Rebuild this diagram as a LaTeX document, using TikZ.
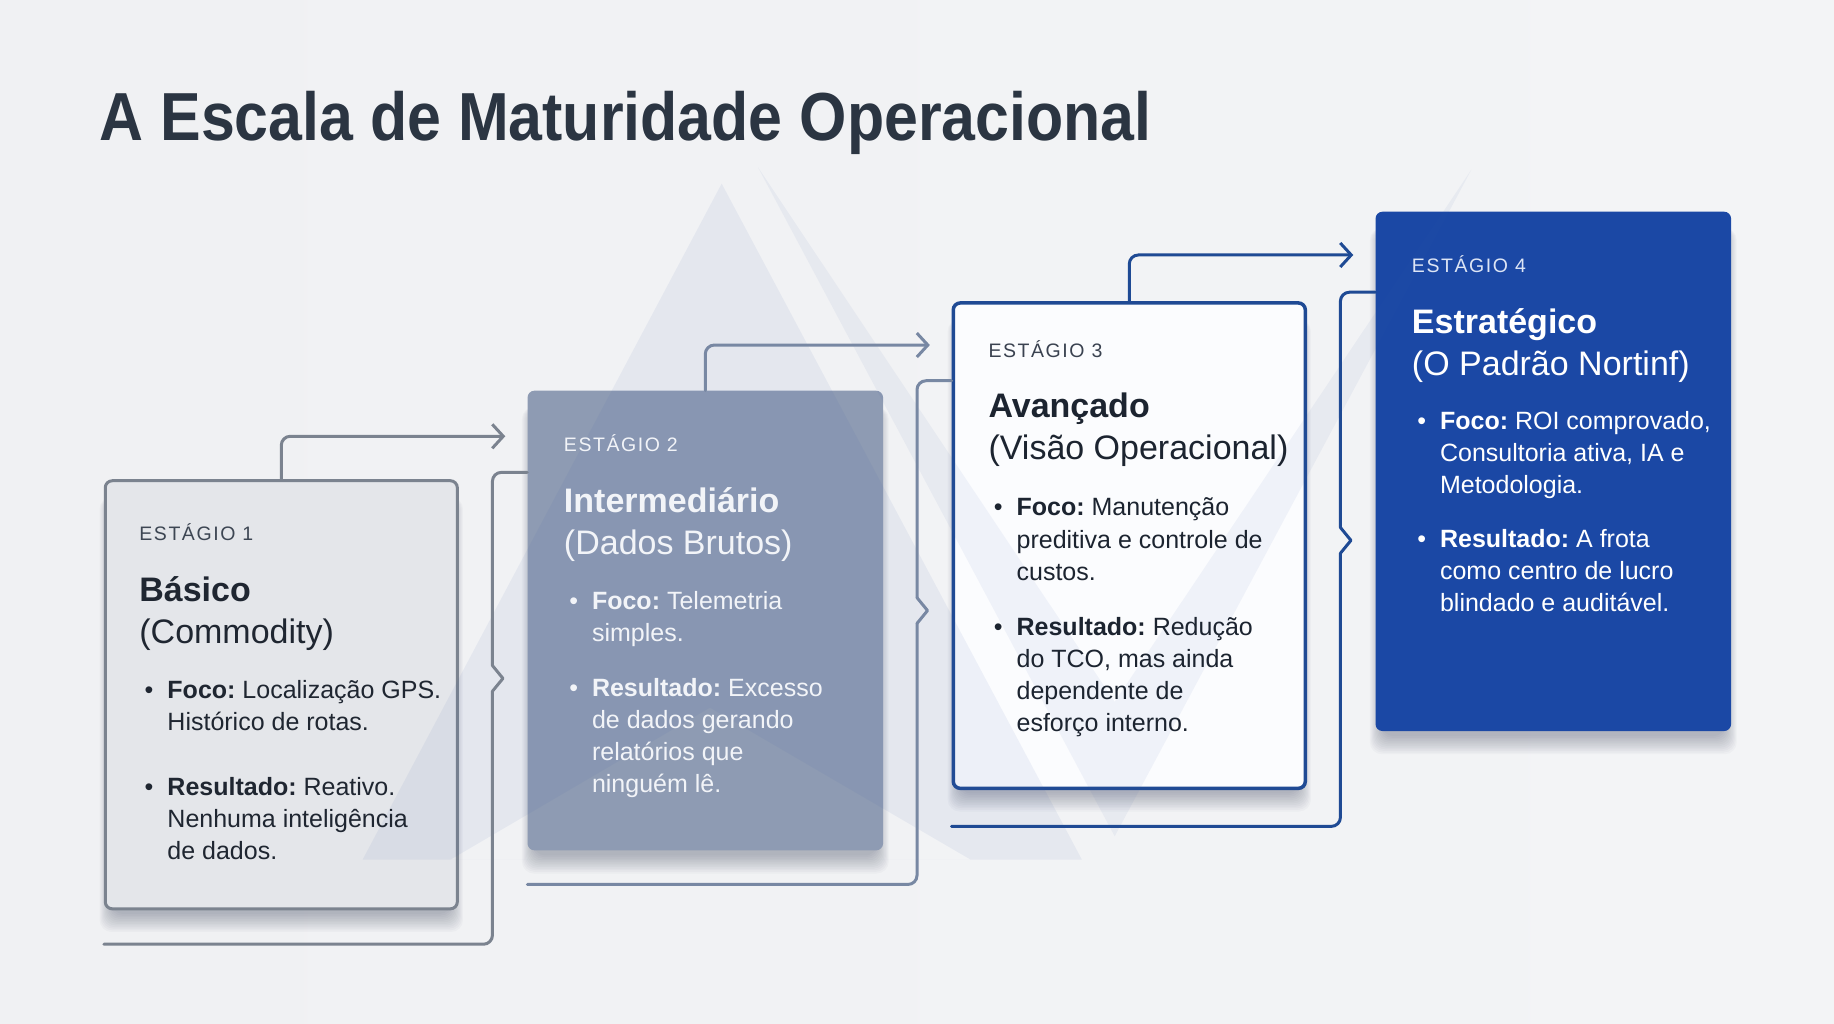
\documentclass[tikz,border=0pt]{standalone}
\usepackage{fontspec}
\setmainfont{Liberation Sans}
\newfontfamily\titlefont{Liberation Sans}[FakeStretch=0.895]
\usetikzlibrary{arrows.meta,fit,calc}
\definecolor{bgA}{HTML}{F0F1F3}
\definecolor{bgM}{HTML}{F9F9FA}
\definecolor{bgB}{HTML}{F3F4F6}
\definecolor{titlec}{HTML}{2B3542}
\definecolor{c1fill}{HTML}{E4E6EA}
\definecolor{c1line}{HTML}{7B838F}
\definecolor{c1text}{HTML}{1F2631}
\definecolor{c1lab}{HTML}{3D4653}
\definecolor{c2fill}{HTML}{8E9BB3}
\definecolor{c2line}{HTML}{7888A3}
\definecolor{c2text}{HTML}{F2F4F8}
\definecolor{c3fill}{HTML}{FBFCFE}
\definecolor{c3line}{HTML}{1F4A94}
\definecolor{c3text}{HTML}{1C2430}
\definecolor{c3lab}{HTML}{3A4250}
\definecolor{c4fill}{HTML}{1B48A5}
\definecolor{c4text}{HTML}{FFFFFF}
\definecolor{c4lab}{HTML}{DDE5F5}
\definecolor{wm}{HTML}{3C5EAA}
\definecolor{shadowc}{HTML}{1F2A44}
\newcommand\bulletmark{\llap{\textbullet\hspace{14pt}}}
\newcommand\softshadow[4]{%
  \foreach \k in {1,...,12}{%
    \fill[shadowc, opacity=0.028, rounded corners=12pt]
      ({#1+6-0.9*\k},{#2+14}) rectangle ({#3-6+0.9*\k},{#4+3+1.4*\k});
  }}
\tikzset{
  boxbase/.style={inner sep=0pt, rounded corners=7pt},
  box1s/.style={boxbase, draw=c1line, line width=3pt, fill=c1fill},
  box2s/.style={boxbase, fill=c2fill},
  box3s/.style={boxbase, draw=c3line, line width=3.5pt, fill=c3fill},
  box4s/.style={boxbase, fill=c4fill},
  conn/.style={line width=3pt, line cap=round, line join=round},
  tipA/.style={-{Straight Barb[length=11pt,width=24pt]}},
  lab/.style={anchor=base west, inner sep=0pt, font=\fontsize{19.5}{23}\selectfont\addfontfeature{LetterSpace=8}},
  head/.style={anchor=north west, inner sep=0pt, align=left, font=\frenchspacing\fontsize{34}{42}\selectfont},
  bul/.style={anchor=north west, inner sep=0pt, align=left, font=\frenchspacing\fontsize{25}{32.2}\selectfont},
}
\begin{document}
\begin{tikzpicture}[x=1.1696pt,y=-1.1696pt]
\useasboundingbox (0,0) rectangle (1568,875);
\shade[left color=bgA, middle color=bgM, right color=bgB] (0,0) rectangle (1568,875);

% title
\node[anchor=base west, inner sep=0pt, font=\titlefont\bfseries\fontsize{68}{80}\selectfont, text=titlec] (title) at (85,120) {A Escala de Maturidade Operacional};

% shadows
\softshadow{90}{411}{391}{777}
\softshadow{451}{334}{755}{727}
\softshadow{815}{259}{1116}{674}
\softshadow{1176}{181}{1480}{625}

% boxes
\node[box1s, fit={(90,411)(391,777)}] (b1) {};
\node[box2s, fit={(451,334)(755,727)}] (b2) {};
\node[box3s, fit={(815,259)(1116,674)}] (b3) {};
\node[box4s, fit={(1176,181)(1480,625)}] (b4) {};

% watermark
\fill[wm, opacity=0.07, even odd rule] (617,157) -- (310,735) -- (925,735) -- cycle (607,605) -- (385,735) -- (830,735) -- cycle;
\fill[wm, opacity=0.06] (648,143) -- (953,715) -- (1258,145) -- (953,600) -- cycle;

% connectors 1
\coordinate (t1) at (432,373);
\draw[conn, c1line, rounded corners=9pt, tipA] (b1.north) |- (t1);
\coordinate (s1) at ($(b1.south west)+(0,29)$);
\coordinate (e1) at ($(b2.north west)+(0,70)$);
\draw[conn, c1line, rounded corners=9pt] (s1) -| (421,591);
\draw[conn, c1line] (421,591) -- (430,580) -- (421,569);
\draw[conn, c1line, rounded corners=9pt] (421,569) |- (e1);

% connectors 2
\coordinate (t2) at (795,295);
\draw[conn, c2line, rounded corners=9pt, tipA] (b2.north) |- (t2);
\coordinate (s2) at ($(b2.south west)+(0,29)$);
\coordinate (e2) at ($(b3.north west)+(0,68)$);
\draw[conn, c2line, rounded corners=9pt] (s2) -| (784,533);
\draw[conn, c2line] (784,533) -- (793,522) -- (784,511);
\draw[conn, c2line, rounded corners=9pt] (784,511) |- (e2);

% connectors 3
\coordinate (t3) at (1157,218);
\draw[conn, c3line, rounded corners=9pt, tipA] (b3.north) |- (t3);
\coordinate (s3) at ($(b3.south west)+(0,31)$);
\coordinate (e3) at ($(b4.north west)+(0,69)$);
\draw[conn, c3line, rounded corners=9pt] (s3) -| (1146,473);
\draw[conn, c3line] (1146,473) -- (1155,462) -- (1146,451);
\draw[conn, c3line, rounded corners=9pt] (1146,451) |- (e3);

% box 1 text
\node[lab, text=c1lab] (l1) at (119,462) {ESTÁGIO 1};
\node[head, text=c1text] (h1) at (119,488.9) {\strut\textbf{Básico}\\(Commodity)};
\node[bul, text=c1text] (f1) at (143,577.7) {\strut\bulletmark\textbf{Foco:} Localização GPS.\\Histórico de rotas.};
\node[bul, text=c1text] (r1) at (143,660.7) {\strut\bulletmark\textbf{Resultado:} Reativo.\\Nenhuma inteligência\\de dados.};

% box 2 text
\node[lab, text=c2text] (l2) at (482,386) {ESTÁGIO 2};
\node[head, text=c2text] (h2) at (482,412.9) {\strut\textbf{Intermediário}\\(Dados Brutos)};
\node[bul, text=c2text] (f2) at (506,501.7) {\strut\bulletmark\textbf{Foco:} Telemetria\\simples.};
\node[bul, text=c2text] (r2) at (506,575.7) {\strut\bulletmark\textbf{Resultado:} Excesso\\de dados gerando\\relatórios que\\ninguém lê.};

% box 3 text
\node[lab, text=c3lab] (l3) at (845,306) {ESTÁGIO 3};
\node[head, text=c3text] (h3) at (845,331.9) {\strut\textbf{Avançado}\\(Visão Operacional)};
\node[bul, text=c3text] (f3) at (869,421.7) {\strut\bulletmark\textbf{Foco:} Manutenção\\preditiva e controle de\\custos.};
\node[bul, text=c3text] (r3) at (869,523.7) {\strut\bulletmark\textbf{Resultado:} Redução\\do TCO, mas ainda\\dependente de\\esforço interno.};

% box 4 text
\node[lab, text=c4lab] (l4) at (1207,233) {ESTÁGIO 4};
\node[head, text=c4text] (h4) at (1207,259.9) {\strut\textbf{Estratégico}\\(O Padrão Nortinf)};
\node[bul, text=c4text] (f4) at (1231,347.7) {\strut\bulletmark\textbf{Foco:} ROI comprovado,\\Consultoria ativa, IA e\\Metodologia.};
\node[bul, text=c4text] (r4) at (1231,448.7) {\strut\bulletmark\textbf{Resultado:} A frota\\como centro de lucro\\blindado e auditável.};
\end{tikzpicture}
\end{document}
